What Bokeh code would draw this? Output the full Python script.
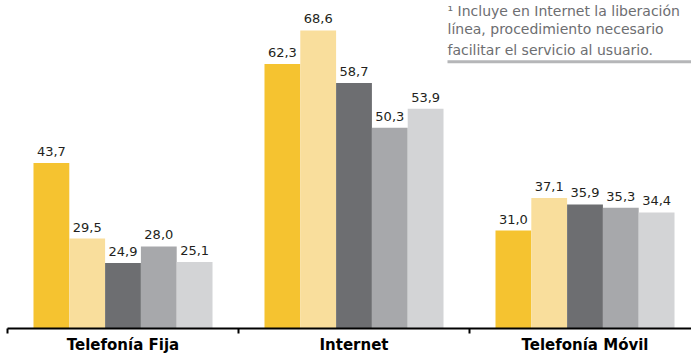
from bokeh.plotting import figure
from bokeh.models import Range1d, FixedTicker, Label, BoxAnnotation, ColumnDataSource
from bokeh.core.properties import value
from bokeh.embed import file_html
from bokeh.resources import INLINE

# ---- data ----
categories = ["Telefonía Fija", "Internet", "Telefonía Móvil"]
serie_1 = [43.7, 62.3, 31.0]
serie_2 = [29.5, 68.6, 37.1]
serie_3 = [24.9, 58.7, 35.9]
serie_4 = [28.0, 50.3, 35.3]
serie_5 = [25.1, 53.9, 34.4]
series = [serie_1, serie_2, serie_3, serie_4, serie_5]
colors = ["#F5C330", "#F9DE9C", "#6D6E71", "#A7A8AB", "#D3D4D6"]
note_lines = [
    "¹ Incluye en Internet la liberación",
    "línea, procedimiento necesario",
    "facilitar el servicio al usuario.",
]

Y0, Y1 = 12.59, 74.22
p = figure(width=691, height=356, x_range=Range1d(0, 2.961), y_range=Range1d(Y0, Y1),
           output_backend="svg", toolbar_location=None, y_axis_location=None,
           min_border_left=7, min_border_right=0, min_border_top=0, min_border_bottom=27)
p.outline_line_color = None
p.xgrid.visible = False
p.ygrid.visible = False
p.background_fill_color = "white"
p.border_fill_color = "white"

bw = 0.155
for i, (vals, col) in enumerate(zip(series, colors)):
    xs = [c + 0.5 + (i - 2) * bw for c in range(len(categories))]
    src = ColumnDataSource(dict(x=xs, top=vals,
                                lab=[f"{v:.1f}".replace(".", ",") for v in vals]))
    p.vbar(x="x", top="top", bottom=Y0, width=bw, source=src, fill_color=col, line_color=None)
    p.text(x="x", y="top", text="lab", source=src, text_align="center", text_baseline="bottom",
           y_offset=-7, text_font=value("DejaVu Sans"), text_font_size="13px", text_color="#231F20")

ax = p.xaxis[0]
ax.ticker = FixedTicker(ticks=[0.5, 1.5, 2.5], minor_ticks=[0, 1, 2, 3])
ax.major_label_overrides = {0.5: categories[0], 1.5: categories[1], 2.5: categories[2]}
ax.major_tick_out = 0
ax.major_tick_in = 0
ax.minor_tick_out = 5
ax.minor_tick_in = 0
ax.minor_tick_line_color = "black"
ax.minor_tick_line_width = 2
ax.axis_line_color = "black"
ax.axis_line_width = 2
ax.major_label_standoff = 2
ax.major_label_text_font = "DejaVu Sans"
ax.major_label_text_font_style = "bold"
ax.major_label_text_font_size = "15px"
ax.major_label_text_color = "black"

def ypx(py):
    return Y1 - py * (Y1 - Y0) / 329.0

def xpx(px):
    return (px - 7) * 2.961 / 684.0

# note (top right)
for ln, base in zip(note_lines, [10.5, 29, 50]):
    p.add_layout(Label(x=xpx(447), y=ypx(base), text=ln, text_baseline="alphabetic",
                       text_font="DejaVu Sans", text_font_size="14px", text_color="#6D6E71"))
p.add_layout(BoxAnnotation(left=xpx(447), right=3.2, top=ypx(60), bottom=ypx(63),
                           fill_color="#B5B6B8", fill_alpha=1, line_color=None))

open("out.html", "w").write(file_html(p, INLINE))
